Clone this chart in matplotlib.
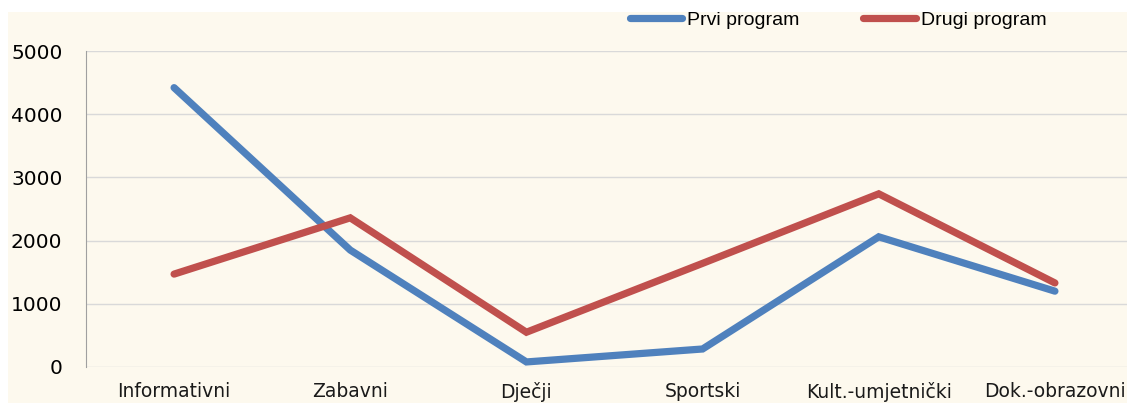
import matplotlib.pyplot as plt
from matplotlib.patches import Rectangle

categories = ['Informativni', 'Zabavni', 'Dječji', 'Sportski', 'Kult.-umjetnički', 'Dok.-obrazovni']
prvi = [4420, 1850, 80, 285, 2060, 1200]
drugi = [1470, 2360, 550, 1640, 2740, 1330]

cream = '#FDF9EE'
fig = plt.figure(figsize=(11.27, 4.03), dpi=100)
fig.patch.set_facecolor('white')
fig.patches.append(Rectangle((8 / 1127, 0), 1, 1 - 12 / 403, transform=fig.transFigure,
                             facecolor=cream, edgecolor='none', zorder=-10))

ax = fig.add_axes([86 / 1127, 36 / 403, 1057 / 1127, 316 / 403])
ax.set_facecolor(cream)
x = range(len(categories))
ax.plot(x, prvi, color='#4F81BD', lw=5.2, solid_capstyle='round', solid_joinstyle='miter', label='Prvi program')
ax.plot(x, drugi, color='#C0504D', lw=5.2, solid_capstyle='round', solid_joinstyle='miter', label='Drugi program')

ax.set_xlim(-0.5, 5.5)
ax.set_ylim(0, 5000)
ax.set_yticks(range(0, 5001, 1000))
ax.set_xticks(list(x))
ax.set_xticklabels(categories, fontsize=13.5, family='DejaVu Sans', color='#1a1a1a')
ax.tick_params(axis='y', labelsize=14.5)
ax.tick_params(axis='both', length=0)
ax.tick_params(axis='x', pad=11)
ax.tick_params(axis='y', pad=17)
ax.grid(axis='y', color='#D9D9D9', lw=1)
ax.set_axisbelow(True)
for s in ['top', 'right', 'bottom']:
    ax.spines[s].set_visible(False)
ax.spines['left'].set_color('#A0A0A0')

fig.legend(loc='center', bbox_to_anchor=(838 / 1127, 1 - 20 / 403), ncol=2, frameon=False,
           handlelength=2.7, handletextpad=0.25, columnspacing=3.3,
           prop={'family': 'Liberation Sans', 'size': 14})

fig.savefig('out.png', dpi=100, facecolor=fig.get_facecolor())
